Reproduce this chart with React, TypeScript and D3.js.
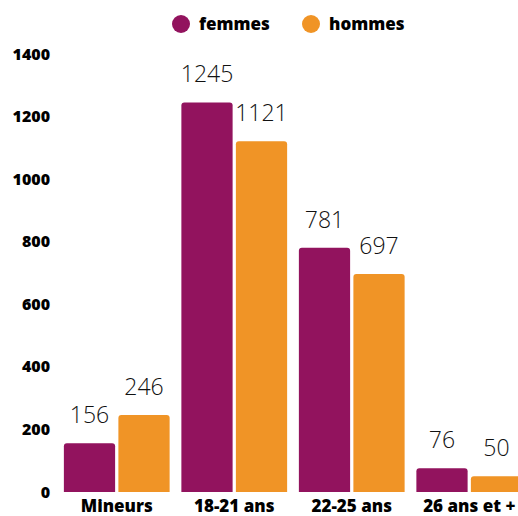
import React, { useEffect, useRef } from 'react';
import * as d3 from 'd3';

const categories = ['Mineurs', '18-21 ans', '22-25 ans', '26 ans et +'];
const series = ['femmes', 'hommes'];
const femmes = [156, 1245, 781, 76];
const hommes = [246, 1121, 697, 50];
const yTicks = [0, 200, 400, 600, 800, 1000, 1200, 1400];
const colors = ['#92135e', '#f09426'];

const W = 518;
const H = 516;

// path for a bar with rounded top corners only
function topRounded(x: number, y: number, w: number, h: number, r: number) {
  const rr = Math.min(r, h, w / 2);
  return `M${x},${y + h}V${y + rr}Q${x},${y} ${x + rr},${y}H${x + w - rr}Q${x + w},${y} ${x + w},${y + rr}V${y + h}Z`;
}

export default function App() {
  const ref = useRef<SVGSVGElement>(null);

  useEffect(() => {
    document.body.style.margin = '0';
    const svg = d3.select(ref.current);
    svg.selectAll('*').remove();

    const values = [femmes, hommes];

    const y = d3.scaleLinear().domain([0, 1400]).range([492, 54]);
    const x0 = d3.scaleBand().domain(categories).range([58, 528]).paddingInner(0.1).paddingOuter(0.05);
    const x1 = d3.scaleBand().domain(series).range([0, x0.bandwidth()]).paddingInner(0.06);

    // y axis labels
    const yAxis = d3.axisLeft(y).tickValues(yTicks).tickSize(0).tickPadding(0).tickFormat(d3.format('d'));
    const gy = svg.append('g').attr('transform', 'translate(50,0)').call(yAxis);
    gy.select('.domain').remove();
    gy.selectAll('text')
      .attr('font-family', '"Open Sans", sans-serif')
      .attr('font-weight', 800)
      .attr('font-size', 16)
      .attr('fill', '#000');

    // bars
    const groups = svg.selectAll('g.grp')
      .data(categories)
      .enter()
      .append('g')
      .attr('class', 'grp')
      .attr('transform', (d) => `translate(${x0(d)},0)`);

    series.forEach((s, si) => {
      groups.append('path')
        .attr('d', (d, i) => {
          const v = values[si][i];
          return topRounded(x1(s)!, y(v), x1.bandwidth(), y(0) - y(v), 3);
        })
        .attr('fill', colors[si]);

      groups.append('text')
        .attr('x', x1(s)! + x1.bandwidth() / 2)
        .attr('y', (d, i) => y(values[si][i]) - 20)
        .attr('text-anchor', 'middle')
        .attr('font-family', '"Open Sans", sans-serif')
        .attr('font-weight', 300)
        .attr('font-size', 23)
        .attr('fill', '#111')
        .text((d, i) => values[si][i]);
    });

    // x axis labels
    const xAxis = d3.axisBottom(x0).tickSize(0).tickPadding(0);
    const gx = svg.append('g').attr('transform', 'translate(0,500)').call(xAxis);
    gx.select('.domain').remove();
    gx.selectAll('text')
      .attr('font-family', '"Open Sans", sans-serif')
      .attr('font-weight', 800)
      .attr('font-size', 17)
      .attr('fill', '#000');

    // legend
    const legendX = [181, 311];
    const lg = svg.append('g');
    series.forEach((s, i) => {
      lg.append('circle').attr('cx', legendX[i]).attr('cy', 24).attr('r', 9).attr('fill', colors[i]);
      lg.append('text')
        .attr('x', legendX[i] + 18)
        .attr('y', 30)
        .attr('font-family', '"Open Sans", sans-serif')
        .attr('font-weight', 800)
        .attr('font-size', 17)
        .attr('fill', '#000')
        .text(s);
    });
  }, []);

  return <svg ref={ref} width={W} height={H} style={{ display: 'block' }} />;
}
